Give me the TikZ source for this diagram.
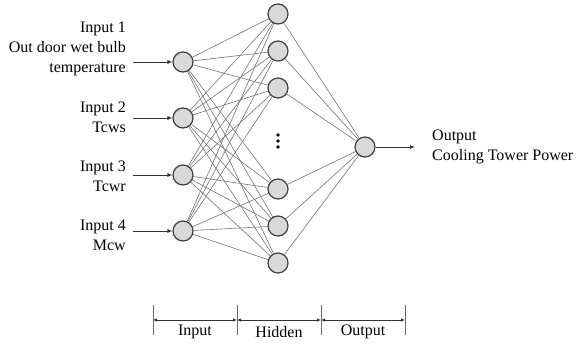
\documentclass[tikz,border=0pt]{standalone}
\usepackage{fontspec}
\setmainfont{Liberation Serif}
\usetikzlibrary{arrows.meta}
\begin{document}
\begin{tikzpicture}[x=1pt,y=-1pt,
  neuron/.style={circle,draw=black!75,line width=1.2pt,fill=black!15,minimum size=20pt,inner sep=0pt},
  conn/.style={draw=black!55,line width=0.6pt},
  inarrow/.style={draw=black!80,line width=0.8pt,-{Latex[length=5pt,width=4pt]}},
  lbl/.style={font=\fontsize{16}{20}\selectfont,inner sep=0pt},
  dim/.style={draw=black!80,line width=0.8pt,{Latex[length=4pt,width=3.5pt]}-{Latex[length=4pt,width=3.5pt]}},
  tick/.style={draw=black!60,line width=0.8pt}]
\useasboundingbox (0,0) rectangle (577,344);
% input nodes
\node[neuron] (i1) at (183,62) {};
\node[neuron] (i2) at (183,118) {};
\node[neuron] (i3) at (183,175) {};
\node[neuron] (i4) at (183,231) {};
% hidden nodes
\node[neuron] (h1) at (278,14) {};
\node[neuron] (h2) at (278,51) {};
\node[neuron] (h3) at (278,88) {};
\node[neuron] (h4) at (278,189) {};
\node[neuron] (h5) at (278,226) {};
\node[neuron] (h6) at (278,263) {};
% output node
\node[neuron] (o) at (365,147) {};
% dots
\foreach \y [count=\k] in {135,141,147} \fill[black] (278,\y) circle (1.8pt);
% connections
\foreach \i in {1,...,4}
  \foreach \h in {1,...,6}
    \draw[conn] (i\i) -- (h\h);
\foreach \h in {1,...,6}
  \draw[conn] (h\h) -- (o);
% input labels
\node[lbl,align=right,anchor=east] (t1) at (126,49) {Input 1\\Out door wet bulb\\temperature};
\node[lbl,align=right,anchor=east] (t2) at (126,117) {Input 2\\Tcws};
\node[lbl,align=right,anchor=east] (t3) at (126,176) {Input 3\\Tcwr};
\node[lbl,align=right,anchor=east] (t4) at (126,235) {Input 4\\Mcw};
\coordinate (a1) at (133,62);
\coordinate (a2) at (133,118);
\coordinate (a3) at (133,175);
\coordinate (a4) at (133,231);
\foreach \k in {1,...,4} \draw[inarrow] (a\k) -- (i\k);
% output
\coordinate (oe) at (415,147);
\draw[inarrow] (o) -- (oe);
\node[lbl,align=left,anchor=west] (tout) at (432,147) {Output\\Cooling Tower Power};
% bottom dimension
\coordinate (k1) at (153,320);
\coordinate (k2) at (237,320);
\coordinate (k3) at (321,320);
\coordinate (k4) at (405,320);
\foreach \k in {1,...,4} \draw[tick] ([yshift=-15pt]k\k) -- ([yshift=15pt]k\k);
\draw[dim] (k1) -- (k2);
\draw[dim] (k2) -- (k3);
\draw[dim] (k3) -- (k4);
\node[lbl] (l1) at (195,332) {Input};
\node[lbl] (l2) at (279,332) {Hidden};
\node[lbl] (l3) at (363,332) {Output};
\end{tikzpicture}
\end{document}
